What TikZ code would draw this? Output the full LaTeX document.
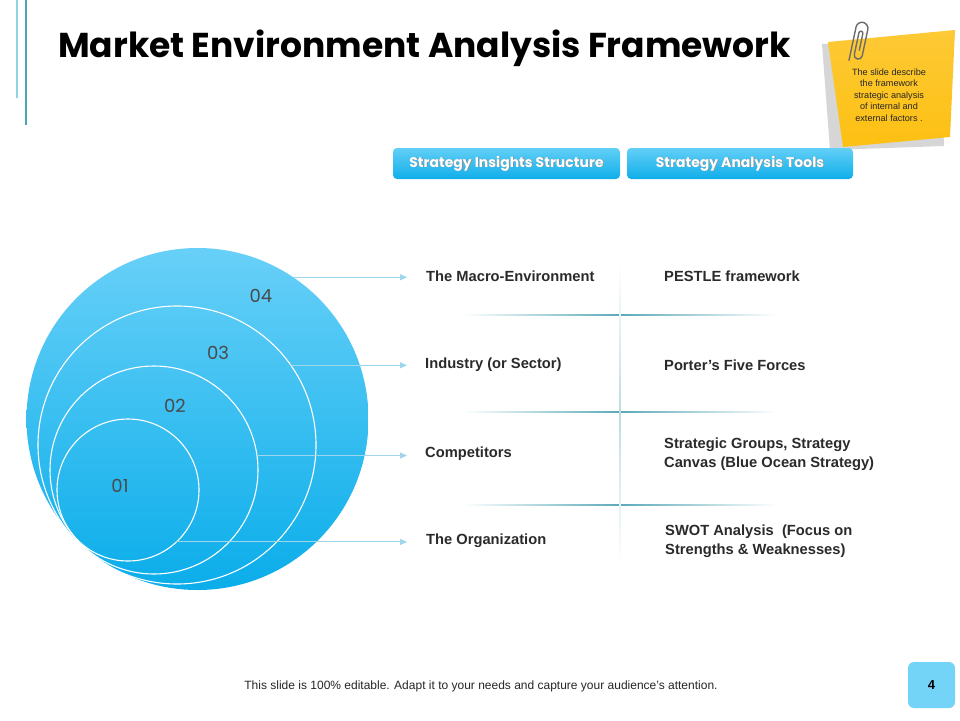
\documentclass[tikz,border=0pt]{standalone}
\usepackage{fontspec}
\setmainfont{Liberation Sans}
\newfontfamily\geo{Poppins}
\usetikzlibrary{arrows.meta,shapes.geometric}
\definecolor{circtop}{HTML}{68D0F8}
\definecolor{circbot}{HTML}{0AADEA}
\definecolor{btntop}{HTML}{62CFF6}
\definecolor{btnbot}{HTML}{10AEEA}
\definecolor{arrcol}{HTML}{9FD6EC}
\definecolor{sepcol}{HTML}{5AA9B8}
\definecolor{txtcol}{HTML}{2A2A2A}
\definecolor{noteyel}{HTML}{FDC012}
\definecolor{notegray}{HTML}{D6D6D6}
\definecolor{pagebox}{HTML}{74D4F8}
\definecolor{lineA}{HTML}{8FD3E6}
\definecolor{lineB}{HTML}{4BA6B7}
\begin{document}
\begin{tikzpicture}[x=1pt,y=-1pt,
  ring/.style={circle, inner sep=0pt, outer sep=0pt, draw=white, line width=1.1pt},
  numlbl/.style={font=\geo\fontsize{18}{18}\selectfont, text=txtcol!85},
  arr/.style={draw=arrcol, line width=0.9pt, -{Triangle[length=7pt,width=6pt]}},
  lefttxt/.style={anchor=west, inner sep=0pt, font=\bfseries\fontsize{14.7}{17}\selectfont, text=txtcol},
  righttxt/.style={anchor=west, inner sep=0pt, align=left, font=\bfseries\fontsize{14.7}{18.5}\selectfont, text=txtcol},
  btn/.style={rounded corners=4pt, top color=btntop, bottom color=btnbot, minimum height=31pt, inner sep=0pt},
  btntxt/.style={font=\geo\bfseries\fontsize{14}{14}\selectfont, text=white},
  btnshadow/.style={font=\geo\bfseries\fontsize{14}{14}\selectfont, text=black!45}
]
\useasboundingbox (0,0) rectangle (960,720);
\fill[white] (0,0) rectangle (960,720);

% top-left accent lines
\draw[lineA, line width=1.6pt] (17,0) -- (17,98);
\draw[lineB, line width=2pt] (26,0) -- (26,125);

% title
\node[anchor=west, inner sep=0pt, font=\geo\bfseries\fontsize{34.5}{36}\selectfont, text=black] (title) at (58,48) {Market Environment Analysis Framework};

% sticky note
\fill[notegray] (822,44) -- (940,40) -- (944,146) -- (830,150) -- cycle;
\shade[top color=noteyel!85!white, bottom color=noteyel] (828,42) -- (955,30) -- (950,137) -- (843,147) -- cycle;
\node[align=center, inner sep=0pt, font=\fontsize{9.1}{11.6}\selectfont, text=black!85] (note) at (889,95)
  {The slide describe\\the framework\\strategic analysis\\of internal and\\external factors .};
\draw[gray!85!black, line width=1.4pt, line cap=round, rotate around={-12:(859,42)}]
  (853,62) -- (853,28) arc(180:360:6) -- (865,55) arc(0:180:4) -- (857,33) arc(180:360:2) -- (861,50);

% header buttons
\node[btn, minimum width=227pt] (b1) at (506.5,163.5) {};
\node[btnshadow] at ([xshift=0.8pt,yshift=-0.8pt]b1.center) {Strategy Insights Structure};
\node[btntxt] (b1t) at (b1.center) {Strategy Insights Structure};
\node[btn, minimum width=226pt] (b2) at (740,163.5) {};
\node[btnshadow] at ([xshift=0.8pt,yshift=-0.8pt]b2.center) {Strategy Analysis Tools};
\node[btntxt] (b2t) at (b2.center) {Strategy Analysis Tools};

% nested circles
\node[circle, inner sep=0pt, outer sep=0pt, minimum size=342pt, top color=circtop, bottom color=circbot] (c4) at (197.5,419) {};
\node[ring, minimum size=278pt] (c3) at (177,445) {};
\node[ring, minimum size=208pt] (c2) at (154,470) {};
\node[ring, minimum size=142pt] (c1) at (128,490) {};

\node[numlbl] (n4) at (261,296) {04};
\node[numlbl] (n3) at (218,353) {03};
\node[numlbl] (n2) at (175,406) {02};
\node[numlbl] (n1) at (120,486) {01};

% separators
\shade[left color=white, right color=white, middle color=sepcol] (463,314.5) rectangle (777,315.7);
\shade[left color=white, right color=white, middle color=sepcol] (463,411.5) rectangle (777,412.7);
\shade[left color=white, right color=white, middle color=sepcol] (463,504.5) rectangle (777,505.7);
\shade[top color=white, bottom color=white, middle color=sepcol!40] (619.6,262) rectangle (620.6,565);

% left labels
\node[lefttxt] (m1) at (426,276) {The Macro-Environment};
\node[lefttxt] (m2) at (425,365) {Industry (or Sector)};
\node[lefttxt] (m3) at (425,454) {Competitors};
\node[lefttxt] (m4) at (426,541) {The Organization};

% right labels
\node[righttxt] (r1) at (664,276) {PESTLE framework};
\node[righttxt] (r2) at (664,365) {Porter’s Five Forces};
\node[righttxt] (r3) at (664,454) {Strategic Groups, Strategy\\Canvas (Blue Ocean Strategy)};
\node[righttxt] (r4) at (665,541) {SWOT Analysis \ (Focus on\\Strengths \& Weaknesses)};

% arrows
\path (c4.56.7 -| m1.west) ++(-19,0) coordinate (e1);
\path (c3.35.1 -| m2.west) ++(-18,0) coordinate (e2);
\path (c2.8.85 -| m3.west) ++(-18,0) coordinate (e3);
\path (c1.-47.1 -| m4.west) ++(-19,0) coordinate (e4);
\draw[arr] (c4.56.7) -- (e1);
\draw[arr] (c3.35.1) -- (e2);
\draw[arr] (c2.8.85) -- (e3);
\draw[arr] (c1.-47.1) -- (e4);

% footer
\node[inner sep=0pt, font=\fontsize{12}{13}\selectfont, text=black!85] (foot) at (481,686)
  {This slide is 100\% editable. Adapt it to your needs and capture your audience’s attention.};
\node[rounded corners=6pt, fill=pagebox, minimum width=47pt, minimum height=46pt, inner sep=0pt] (pg) at (931.5,685) {};
\node[font=\bfseries\fontsize{13}{13}\selectfont, text=black] (pgn) at (pg.center) {4};
\end{tikzpicture}
\end{document}
